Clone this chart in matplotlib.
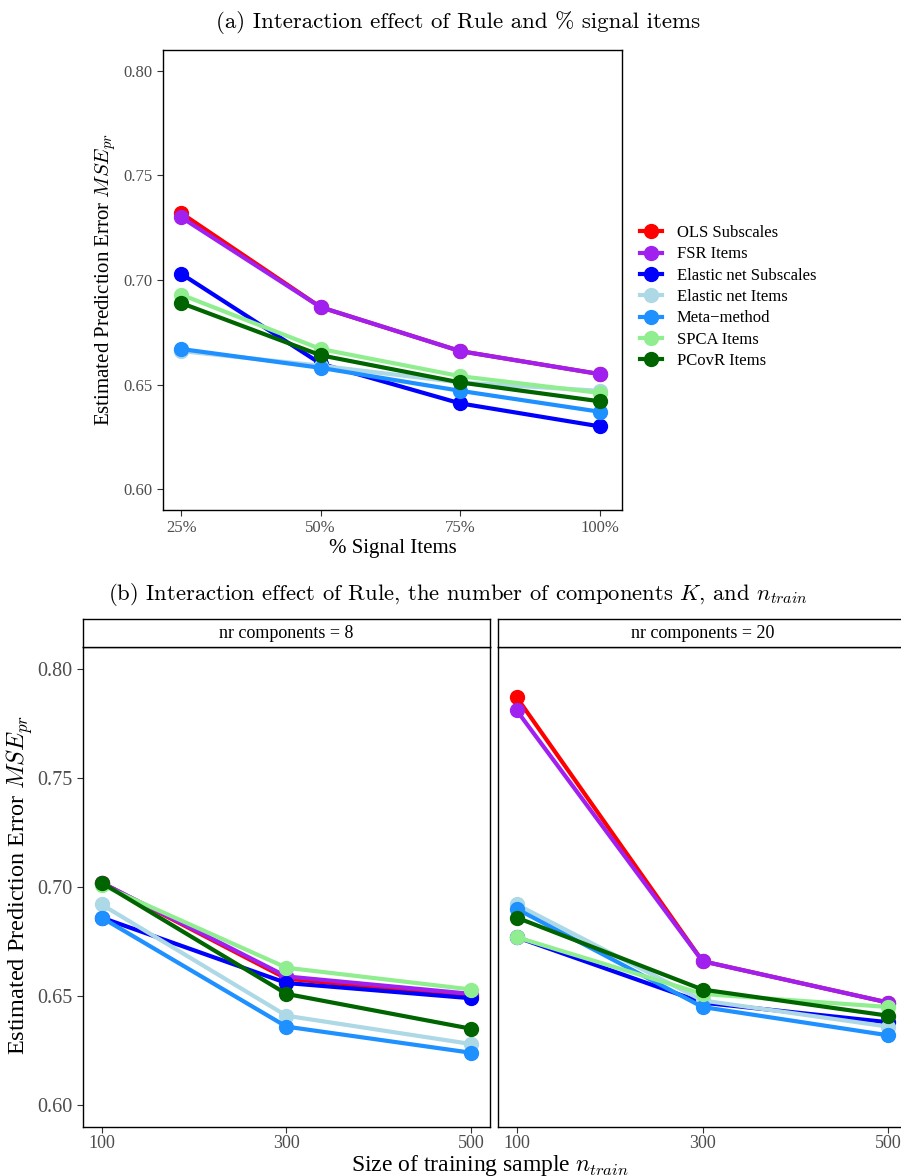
import numpy as np
import matplotlib
matplotlib.use("Agg")
import matplotlib.pyplot as plt
from matplotlib.lines import Line2D

plt.rcParams["mathtext.fontset"] = "cm"
plt.rcParams["font.family"] = ["Liberation Serif", "DejaVu Serif"]

rules = ["OLS Subscales", "FSR Items", "Elastic net Subscales", "Elastic net Items",
         "Meta\u2212method", "SPCA Items", "PCovR Items"]
colors = ["#FF0000", "#A020F0", "#0000FF", "#ADD8E6", "#1E90FF", "#90EE90", "#006400"]

# panel (a): % signal items
signal = ["25%", "50%", "75%", "100%"]
mse_signal = {
    "OLS Subscales":         [0.732, 0.687, 0.666, 0.655],
    "FSR Items":             [0.730, 0.687, 0.666, 0.655],
    "Elastic net Subscales": [0.703, 0.660, 0.641, 0.630],
    "Elastic net Items":     [0.666, 0.659, 0.651, 0.647],
    "Meta\u2212method":      [0.667, 0.658, 0.647, 0.637],
    "SPCA Items":            [0.693, 0.667, 0.654, 0.646],
    "PCovR Items":           [0.689, 0.664, 0.651, 0.642],
}

# panel (b): n_train by number of components
ntrain = [100, 300, 500]
mse_k8 = {
    "OLS Subscales":         [0.702, 0.658, 0.650],
    "FSR Items":             [0.702, 0.659, 0.651],
    "Elastic net Subscales": [0.686, 0.656, 0.649],
    "Elastic net Items":     [0.692, 0.641, 0.628],
    "Meta\u2212method":      [0.686, 0.636, 0.624],
    "SPCA Items":            [0.701, 0.663, 0.653],
    "PCovR Items":           [0.702, 0.651, 0.635],
}
mse_k20 = {
    "OLS Subscales":         [0.787, 0.666, 0.647],
    "FSR Items":             [0.781, 0.666, 0.647],
    "Elastic net Subscales": [0.677, 0.647, 0.638],
    "Elastic net Items":     [0.692, 0.648, 0.636],
    "Meta\u2212method":      [0.690, 0.645, 0.632],
    "SPCA Items":            [0.677, 0.651, 0.645],
    "PCovR Items":           [0.686, 0.653, 0.641],
}
panels = [("nr components = 8", mse_k8), ("nr components = 20", mse_k20)]
yticks = [0.60, 0.65, 0.70, 0.75, 0.80]

W, H = 901, 1176
fig = plt.figure(figsize=(W / 100, H / 100), dpi=100)

def box(x0, y0, x1, y1):
    return [x0 / W, 1 - y1 / H, (x1 - x0) / W, (y1 - y0) / H]

def style(ax, fs, xfs=None):
    for s in ax.spines.values():
        s.set_color("black")
        s.set_linewidth(1.0)
    ax.tick_params(colors="#333333", labelcolor="#4D4D4D", length=4, width=0.8, labelsize=fs)
    if xfs:
        ax.tick_params(axis="x", labelsize=xfs, pad=2)
    ax.set_yticks(yticks)
    ax.set_yticklabels(["%.2f" % v for v in yticks])

lw, ms = 3.0, 10

# ---- (a)
ax = fig.add_axes(box(163, 50, 622, 510))
xs = np.arange(len(signal))
for r, c in zip(rules, colors):
    ax.plot(xs, mse_signal[r], color=c, lw=lw, marker="o", ms=ms, solid_capstyle="butt")
ax.set_xlim(-0.13, 3.16)
ax.set_ylim(0.59, 0.81)
ax.set_xticks(xs)
ax.set_xticklabels(signal)
style(ax, 12)
ax.set_xlabel("% Signal Items", fontsize=15, labelpad=2)
ax.set_ylabel("Estimated Prediction Error $MSE_{pr}$", fontsize=15, labelpad=4)
fig.text(458 / W, 1 - 22 / H, "(a) Interaction effect of Rule and % signal items",
         family="cmr10", fontsize=16.5, ha="center", va="center")

handles = [Line2D([], [], color=c, lw=lw, marker="o", ms=ms) for c in colors]
fig.legend(handles, rules, loc="center left", bbox_to_anchor=(632 / W, 1 - 297 / H),
           frameon=False, fontsize=12, handlelength=1.3, handletextpad=0.9,
           labelspacing=0.32, borderpad=0)

# ---- (b)
fig.text(458 / W, 1 - 595 / H,
         "(b) Interaction effect of Rule, the number of components $K$, and $n_{train}$",
         family="cmr10", fontsize=16.3, ha="center", va="center")
lefts = [(83, 490), (498, 907)]
for i, ((label, data), (x0, x1)) in enumerate(zip(panels, lefts)):
    ax = fig.add_axes(box(x0, 647, x1, 1127))
    for r, c in zip(rules, colors):
        ax.plot(ntrain, data[r], color=c, lw=lw, marker="o", ms=ms, solid_capstyle="butt")
    ax.set_xlim(80, 520)
    ax.set_ylim(0.590, 0.810)
    ax.set_xticks(ntrain)
    style(ax, 14.5, 13)
    if i > 0:
        ax.tick_params(axis="y", left=False, labelleft=False)
    strip = fig.add_axes(box(x0, 619, x1, 647))
    strip.set_xticks([])
    strip.set_yticks([])
    for s in strip.spines.values():
        s.set_linewidth(1.0)
    strip.text(0.5, 0.5, label, ha="center", va="center", fontsize=13,
               transform=strip.transAxes)

fig.text(20 / W, 1 - 885 / H, "Estimated Prediction Error $MSE_{pr}$",
         fontsize=17.5, rotation=90, ha="center", va="center")
fig.text(490 / W, 1 - 1171 / H, "Size of training sample $n_{train}$",
         fontsize=17, ha="center", va="baseline")

fig.savefig("out.png", dpi=100)
